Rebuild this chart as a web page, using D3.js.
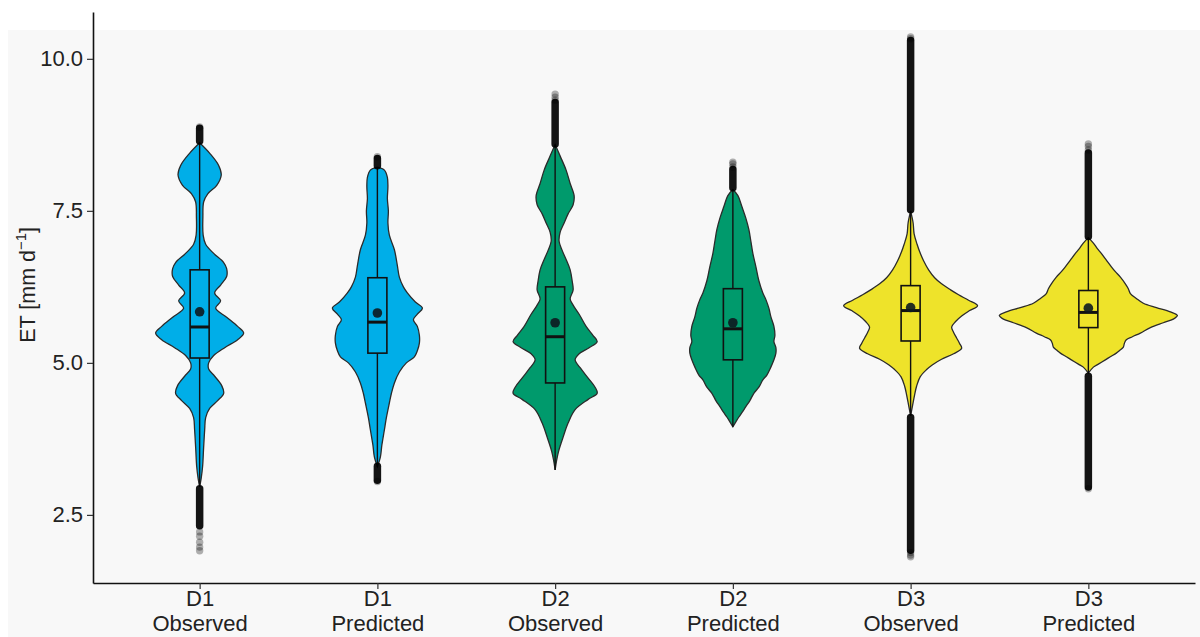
<!DOCTYPE html>
<html>
<head>
<meta charset="utf-8">
<script src="https://cdn.jsdelivr.net/npm/d3@7"></script>
<style>
  html, body { margin: 0; padding: 0; background: #ffffff; }
  svg { display: block; font-family: "Liberation Sans", Arial, sans-serif; }
</style>
</head>
<body>
<svg id="chart" width="1200" height="637"></svg>
<script>
// ---------------- DATA ----------------
const datasets = ["D1", "D1", "D2", "D2", "D3", "D3"];
const kinds = ["Observed", "Predicted", "Observed", "Predicted", "Observed", "Predicted"];
const fills = ["#00AEE8", "#00AEE8", "#009A6C", "#009A6C", "#EEE32A", "#EEE32A"];
const yTicks = [2.5, 5.0, 7.5, 10.0];

// violin density profiles: [value, relative density]
const d1ObsDensity = [[8.62,0],[8.45,.11],[8.25,.21],[8.09,.24],[7.92,.19],[7.78,.09],[7.65,.045],[7.4,.036],[7.1,.039],[6.95,.067],[6.8,.156],[6.65,.267],[6.55,.3],[6.42,.3],[6.28,.233],[6.15,.167],[6.02,.233],[5.9,.178],[5.75,.3],[5.6,.422],[5.49,.489],[5.38,.422],[5.25,.278],[5.12,.156],[5.0,.1],[4.9,.1],[4.78,.167],[4.63,.244],[4.5,.267],[4.38,.2],[4.25,.111],[4.1,.067],[3.9,.056],[3.6,.044],[3.3,.033],[3.1,.017],[2.96,0]];
const d1PredDensity = [[8.22,0],[8.17,.078],[8.05,.111],[7.9,.117],[7.7,.111],[7.5,.122],[7.3,.117],[7.1,.133],[6.86,.189],[6.6,.222],[6.41,.244],[6.25,.289],[6.15,.333],[6.0,.422],[5.9,.5],[5.8,.444],[5.71,.4],[5.6,.444],[5.45,.467],[5.33,.467],[5.2,.444],[5.1,.411],[5.0,.322],[4.85,.244],[4.67,.189],[4.5,.156],[4.34,.133],[4.1,.1],[3.9,.078],[3.65,.05],[3.45,.033],[3.29,0]];
const d2ObsDensity = [[8.59,0],[8.4,.056],[8.17,.122],[7.95,.167],[7.75,.211],[7.6,.2],[7.45,.144],[7.3,.1],[7.15,.056],[7.0,.044],[6.85,.078],[6.7,.122],[6.53,.167],[6.35,.189],[6.2,.2],[6.05,.167],[5.95,.2],[5.8,.267],[5.6,.344],[5.45,.422],[5.35,.467],[5.25,.378],[5.15,.267],[5.05,.222],[4.92,.278],[4.75,.367],[4.6,.444],[4.5,.467],[4.4,.367],[4.23,.222],[4.01,.144],[3.78,.089],[3.55,.039],[3.4,.017],[3.24,0]];
const d2PredDensity = [[7.85,0],[7.75,.056],[7.57,.1],[7.38,.144],[7.19,.178],[7.0,.2],[6.8,.222],[6.58,.256],[6.35,.289],[6.15,.333],[6.04,.367],[5.9,.4],[5.76,.422],[5.6,.456],[5.45,.467],[5.35,.456],[5.25,.478],[5.16,.478],[5.05,.456],[4.93,.422],[4.8,.378],[4.72,.333],[4.6,.289],[4.5,.233],[4.38,.189],[4.28,.144],[4.18,.1],[4.11,.067],[4.03,.033],[3.95,0]];
const d3ObsDensity = [[7.5,0],[7.3,.028],[7.12,.039],[6.95,.072],[6.83,.1],[6.68,.144],[6.53,.2],[6.4,.267],[6.3,.344],[6.2,.444],[6.12,.533],[6.03,.644],[5.94,.744],[5.86,.656],[5.77,.567],[5.68,.5],[5.59,.456],[5.5,.478],[5.41,.511],[5.32,.544],[5.24,.567],[5.15,.478],[5.06,.344],[4.97,.244],[4.89,.178],[4.77,.106],[4.62,.067],[4.47,.044],[4.3,.022],[4.13,0]];
const d3PredDensity = [[7.06,0],[6.97,.056],[6.88,.1],[6.8,.144],[6.69,.2],[6.58,.256],[6.5,.3],[6.41,.356],[6.3,.411],[6.22,.444],[6.14,.467],[6.06,.533],[5.98,.611],[5.91,.756],[5.84,.911],[5.78,.989],[5.72,.944],[5.66,.833],[5.58,.689],[5.49,.578],[5.43,.489],[5.38,.422],[5.32,.4],[5.26,.389],[5.2,.344],[5.16,.311],[5.1,.244],[5.05,.189],[4.98,.111],[4.93,.056],[4.83,0]];

// box statistics
const q1 = [5.08, 5.16, 4.67, 5.05, 5.36, 5.58];
const medians = [5.59, 5.67, 5.43, 5.56, 5.86, 5.83];
const q3 = [6.53, 6.40, 6.25, 6.22, 6.27, 6.19];
const means = [5.84, 5.82, 5.66, 5.66, 5.91, 5.90];
const whiskerLow = [2.96, 3.29, 3.24, 3.95, 4.13, 4.83];
const whiskerHigh = [8.62, 8.22, 8.59, 7.85, 7.50, 7.06];

// outliers: dense runs of overlapping points [from, to], and sparse single points
const d1ObsOutlierRuns = [[8.65, 8.86], [2.32, 2.93]];
const d1PredOutlierRuns = [[8.24, 8.36], [3.07, 3.30]];
const d2ObsOutlierRuns = [[8.60, 9.28]];
const d2PredOutlierRuns = [[7.88, 8.18]];
const d3ObsOutlierRuns = [[7.52, 10.30], [1.92, 4.10]];
const d3PredOutlierRuns = [[7.08, 8.45], [2.96, 4.78]];
const d1ObsOutliers = [8.88, 2.22, 2.15, 2.05, 1.97, 1.91];
const d1PredOutliers = [8.39, 3.05];
const d2ObsOutliers = [9.32, 9.37, 9.42];
const d2PredOutliers = [8.22, 8.27, 8.30];
const d3ObsOutliers = [10.33, 10.36, 1.88, 1.84, 1.81];
const d3PredOutliers = [8.50, 8.56, 8.60, 2.93];

const densities = [d1ObsDensity, d1PredDensity, d2ObsDensity, d2PredDensity, d3ObsDensity, d3PredDensity];
const outlierRuns = [d1ObsOutlierRuns, d1PredOutlierRuns, d2ObsOutlierRuns, d2PredOutlierRuns, d3ObsOutlierRuns, d3PredOutlierRuns];
const outlierPoints = [d1ObsOutliers, d1PredOutliers, d2ObsOutliers, d2PredOutliers, d3ObsOutliers, d3PredOutliers];

// ---------------- CHART ----------------
const svg = d3.select("#chart");
const W = 1200, H = 637;
const mLeft = 93, mRight = 1195, mTop = 12, mBottom = 583;

svg.append("rect").attr("x", 8).attr("y", 30).attr("width", W - 8).attr("height", H - 30).attr("fill", "#f8f8f8");

const ids = datasets.map((d, i) => i);
const x = d3.scalePoint().domain(ids).range([mLeft, mRight]).padding(0.6);
const y = d3.scaleLinear().domain([1.38, 10.77]).range([mBottom, mTop]);
const w = d3.scaleLinear().domain([0, 1]).range([0, 90]);
const boxHalf = 9.5;

const g = svg.append("g");

ids.forEach(i => {
  const cx = x(i);
  const area = d3.area()
    .curve(d3.curveCatmullRom.alpha(0.5))
    .y(d => y(d[0]))
    .x0(d => cx - w(d[1]))
    .x1(d => cx + w(d[1]));
  g.append("path")
    .attr("d", area(densities[i]))
    .attr("fill", fills[i])
    .attr("stroke", "#2b2b2b")
    .attr("stroke-width", 1.3);

  g.append("line")
    .attr("x1", cx).attr("x2", cx)
    .attr("y1", y(whiskerHigh[i])).attr("y2", y(whiskerLow[i]))
    .attr("stroke", "#111").attr("stroke-width", 1.4);

  g.append("rect")
    .attr("x", cx - boxHalf).attr("width", boxHalf * 2)
    .attr("y", y(q3[i])).attr("height", y(q1[i]) - y(q3[i]))
    .attr("fill", fills[i]).attr("stroke", "#111").attr("stroke-width", 1.6);
  g.append("line")
    .attr("x1", cx - boxHalf).attr("x2", cx + boxHalf)
    .attr("y1", y(medians[i])).attr("y2", y(medians[i]))
    .attr("stroke", "#111").attr("stroke-width", 3);

  g.append("circle")
    .attr("cx", cx).attr("cy", y(means[i])).attr("r", 4.8)
    .attr("fill", "#0d1a20").attr("fill-opacity", 0.9);

  outlierRuns[i].forEach(r => {
    g.append("line")
      .attr("x1", cx).attr("x2", cx)
      .attr("y1", y(r[1])).attr("y2", y(r[0]))
      .attr("stroke", "#000").attr("stroke-opacity", 0.92)
      .attr("stroke-width", 7.5).attr("stroke-linecap", "round");
  });
  outlierPoints[i].forEach(v => {
    g.append("circle")
      .attr("cx", cx).attr("cy", y(v)).attr("r", 3.7)
      .attr("fill", "#000").attr("fill-opacity", 0.3);
  });
});

// axes
const yAxis = d3.axisLeft(y).tickValues(yTicks).tickFormat(d3.format(".1f")).tickSize(6).tickSizeOuter(0).tickPadding(4);
const yg = svg.append("g").attr("transform", `translate(${mLeft},0)`).call(yAxis);
yg.select(".domain").attr("stroke", "#111").attr("stroke-width", 1.6);
yg.selectAll(".tick line").attr("stroke", "#333").attr("stroke-width", 1.2);
yg.selectAll(".tick text").attr("font-size", 22).attr("fill", "#222")
  .attr("font-family", "'Liberation Sans', Arial, sans-serif");

const xAxis = d3.axisBottom(x).tickSize(6).tickSizeOuter(0).tickFormat(() => "");
const xg = svg.append("g").attr("transform", `translate(0,${mBottom})`).call(xAxis);
xg.select(".domain").attr("stroke", "#111").attr("stroke-width", 1.6);
xg.selectAll(".tick line").attr("stroke", "#333").attr("stroke-width", 1.2);
xg.selectAll(".tick").each(function(i) {
  const t = d3.select(this).append("text")
    .attr("text-anchor", "middle").attr("fill", "#222")
    .attr("font-size", 22)
    .attr("font-family", "'Liberation Sans', Arial, sans-serif");
  t.append("tspan").attr("x", 0).attr("y", 23).text(datasets[i]);
  t.append("tspan").attr("x", 0).attr("y", 48).text(kinds[i]);
});

// y title
const yt = svg.append("text")
  .attr("transform", `translate(35,${(y(10) + y(2.5)) / 2 - 2}) rotate(-90)`)
  .attr("text-anchor", "middle").attr("font-size", 21.5).attr("fill", "#222");
yt.append("tspan").text("ET [mm d");
yt.append("tspan").attr("dy", -9).attr("font-size", 15).text("\u22121");
yt.append("tspan").attr("dy", 9).text("]");
</script>
</body>
</html>
